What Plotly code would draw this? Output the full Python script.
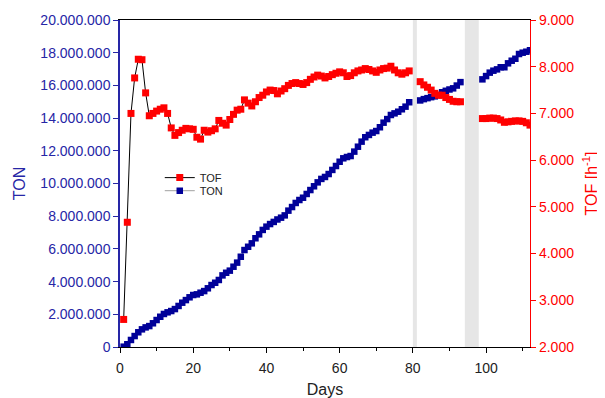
import plotly.graph_objects as go

# ---------------- data ----------------
days_a = list(range(1, 80))      # days 1..79
days_b = list(range(82, 94))     # days 82..93
days_c = list(range(99, 113))    # days 99..112

tof_a = [2.59, 4.67, 7.00, 7.76, 8.16, 8.15, 7.44, 6.95, 7.00, 7.05,
         7.09, 7.12, 7.00, 6.69, 6.53, 6.59, 6.64, 6.68, 6.67, 6.66,
         6.49, 6.45, 6.64, 6.60, 6.63, 6.67, 6.85, 6.79, 6.75, 6.87,
         6.98, 7.07, 7.09, 7.29, 7.22, 7.16, 7.25, 7.34, 7.39, 7.46,
         7.50, 7.49, 7.42, 7.48, 7.53, 7.60, 7.64, 7.66, 7.64, 7.62,
         7.66, 7.73, 7.78, 7.82, 7.80, 7.76, 7.79, 7.83, 7.86, 7.89,
         7.87, 7.79, 7.81, 7.87, 7.91, 7.93, 7.96, 7.94, 7.91, 7.88,
         7.93, 7.96, 7.97, 8.01, 7.93, 7.87, 7.84, 7.87, 7.91]
tof_b = [7.68, 7.61, 7.56, 7.50, 7.43, 7.39, 7.39, 7.34, 7.30, 7.26, 7.25, 7.25]
tof_c = [6.89, 6.89, 6.90, 6.90, 6.89, 6.86, 6.81, 6.82, 6.83, 6.84, 6.84, 6.83, 6.80, 6.75]

# TON in millions
ton_a = [0.02, 0.17, 0.43, 0.67, 0.90, 1.08, 1.20, 1.28, 1.45, 1.65,
         1.85, 2.02, 2.12, 2.20, 2.32, 2.51, 2.71, 2.87, 3.04, 3.18,
         3.22, 3.32, 3.42, 3.59, 3.79, 3.93, 4.10, 4.38, 4.54, 4.67,
         4.91, 5.16, 5.52, 5.93, 6.13, 6.34, 6.65, 6.89, 7.16, 7.36,
         7.52, 7.65, 7.80, 7.91, 8.05, 8.34, 8.56, 8.81, 8.99, 9.13,
         9.36, 9.60, 9.83, 10.07, 10.28, 10.40, 10.58, 10.83, 11.07, 11.33,
         11.54, 11.62, 11.68, 11.95, 12.25, 12.56, 12.83, 12.97, 13.11, 13.21,
         13.44, 13.72, 13.94, 14.19, 14.29, 14.39, 14.54, 14.70, 14.97]
ton_b = [15.08, 15.16, 15.22, 15.28, 15.33, 15.41, 15.58, 15.67, 15.75, 15.82, 15.99, 16.20]
ton_c = [16.37, 16.57, 16.78, 16.90, 16.98, 17.11, 17.11, 17.35, 17.51, 17.63, 17.92, 18.00, 18.06, 18.15]

gap_periods = [(80.0, 81.1), (94.2, 98.0)]

ton_tickvals = [0, 2e6, 4e6, 6e6, 8e6, 10e6, 12e6, 14e6, 16e6, 18e6, 20e6]
ton_ticktext = ["0", "2.000.000", "4.000.000", "6.000.000", "8.000.000", "10.000.000",
                "12.000.000", "14.000.000", "16.000.000", "18.000.000", "20.000.000"]
tof_tickvals = [2, 3, 4, 5, 6, 7, 8, 9]
tof_ticktext = ["2.000", "3.000", "4.000", "5.000", "6.000", "7.000", "8.000", "9.000"]

# -------------- build ---------------
def join(segs):
    out = []
    for i, s in enumerate(segs):
        if i:
            out.append(None)
        out.extend(s)
    return out

days = join([days_a, days_b, days_c])
tof = join([tof_a, tof_b, tof_c])
ton = [None if v is None else v * 1e6 for v in join([ton_a, ton_b, ton_c])]

FONT = "Liberation Sans, Arial, sans-serif"
BLUE_AX = "#2626a6"
RED = "#ff0000"

fig = go.Figure()
fig.add_trace(go.Scatter(
    x=days, y=tof, name="TOF", yaxis="y2", mode="lines+markers",
    line=dict(color="black", width=1),
    marker=dict(symbol="square", size=7, color=RED),
    connectgaps=False, legend="legend"))
fig.add_trace(go.Scatter(
    x=days, y=ton, name="TON", yaxis="y", mode="lines+markers",
    line=dict(color="#a0a0a0", width=1),
    marker=dict(symbol="square", size=6.5, color="#000099"),
    connectgaps=False, legend="legend2"))

for x0, x1 in gap_periods:
    fig.add_shape(type="rect", xref="x", yref="paper", x0=x0, x1=x1, y0=0, y1=1,
                  fillcolor="#e6e6e6", line=dict(width=0), layer="below")

leg_common = dict(xanchor="left", yanchor="middle", bgcolor="rgba(0,0,0,0)",
                  font=dict(size=11, color="#222222"), itemwidth=30)

fig.update_layout(
    width=597, height=390,
    margin=dict(l=112, r=75, t=12, b=51),
    paper_bgcolor="white", plot_bgcolor="white",
    font=dict(family=FONT, size=14, color="black"),
    showlegend=True,
    legend=dict(x=0.097, y=0.518, **leg_common),
    legend2=dict(x=0.097, y=0.478, **leg_common),
    xaxis=dict(range=[0, 112], tickvals=[0, 20, 40, 60, 80, 100], ticks="outside",
               ticklen=5, tickwidth=1, tickcolor="black",
               minor=dict(tickvals=[10, 30, 50, 70, 90, 110], ticks="outside", ticklen=3,
                          tickcolor="black"),
               showline=True, linecolor="black", linewidth=1, mirror=True,
               showgrid=False, zeroline=False, ticklabelstandoff=3,
               tickfont=dict(size=14, color="#222222"),
               title=dict(text="Days", font=dict(size=16, color="#222222"), standoff=13),
               automargin=False),
    yaxis=dict(range=[0, 20e6], tickvals=ton_tickvals, ticktext=ton_ticktext,
               ticks="outside", ticklen=5, tickcolor=BLUE_AX,
               showline=True, linecolor=BLUE_AX, linewidth=1.5,
               showgrid=False, zeroline=False,
               tickfont=dict(size=14, color=BLUE_AX),
               title=dict(text="TON", font=dict(size=16, color=BLUE_AX), standoff=11),
               automargin=False),
    yaxis2=dict(range=[2, 9], tickvals=tof_tickvals, ticktext=tof_ticktext,
                overlaying="y", side="right", anchor="x",
                ticks="outside", ticklen=5, tickcolor=RED,
                showline=True, linecolor=RED, linewidth=1.3,
                showgrid=False, zeroline=False,
                tickfont=dict(size=14, color=RED),
                title=dict(text="TOF [h<sup>-1</sup>]", font=dict(size=16, color=RED), standoff=12),
                automargin=False),
)

fig.write_html("out.html")
